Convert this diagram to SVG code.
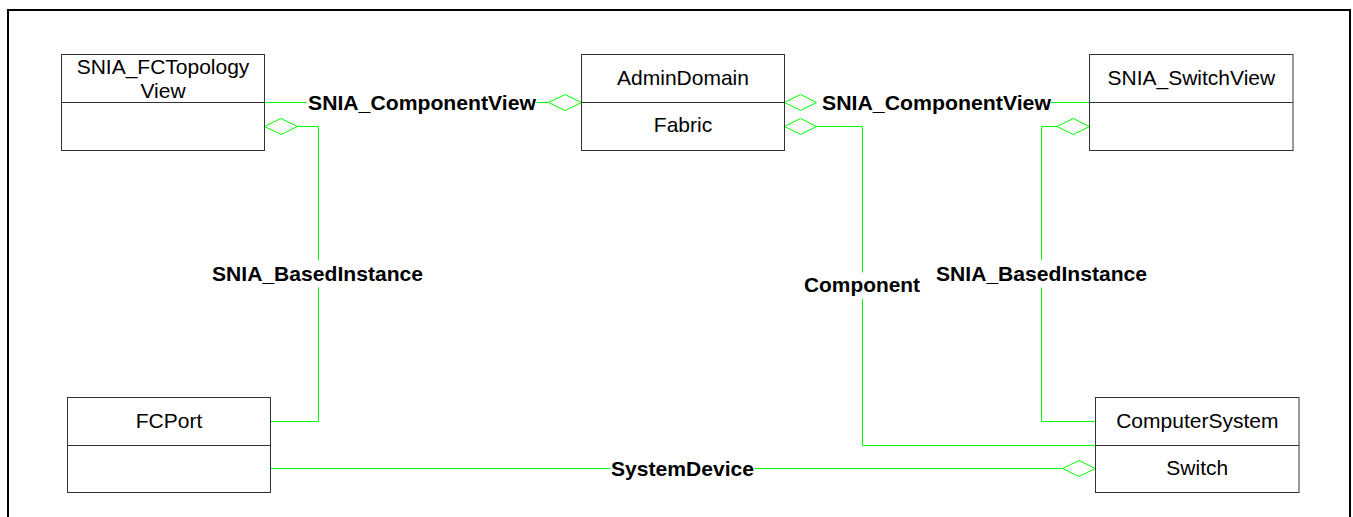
<svg xmlns="http://www.w3.org/2000/svg" width="1353" height="517" viewBox="0 0 1353 517">
<style>
.box{fill:#fff;stroke:#333;stroke-width:1}
.div{stroke:#333;stroke-width:1}
.t{font-family:"Liberation Sans",Arial,sans-serif;font-size:21px;fill:#000;text-anchor:middle}
.lbl{font-family:"Liberation Sans",Arial,sans-serif;font-size:21px;font-weight:bold;fill:#000}
.c{fill:none;stroke:#00ff00;stroke-width:1}
.dia{fill:#fff;stroke:#00ff00;stroke-width:1}
</style>
<rect x="8" y="10" width="1342" height="530" fill="#fff" stroke="#000" stroke-width="2"/>
<g id="connectors">
  <!-- SNIA_ComponentView left -->
  <path class="c" d="M264.5 102.5H306.5M536.5 102.5H548.5"/>
  <polygon class="dia" points="548.5,102.5 565,94.5 581.5,102.5 565,110.5"/>
  <text class="lbl" x="308" y="109.5" textLength="228" lengthAdjust="spacingAndGlyphs">SNIA_ComponentView</text>
  <!-- SNIA_ComponentView right -->
  <polygon class="dia" points="784.5,102.5 800.5,94.5 816.5,102.5 800.5,110.5"/>
  <path class="c" d="M1051 102.5H1089.5"/>
  <text class="lbl" x="822" y="109.5" textLength="229" lengthAdjust="spacingAndGlyphs">SNIA_ComponentView</text>
  <!-- SNIA_BasedInstance left -->
  <polygon class="dia" points="264.5,126.5 281,118.5 297.5,126.5 281,134.5"/>
  <path class="c" d="M297.5 126.5H318.5V260.5M318.5 287.5V421.5H270.5"/>
  <text class="lbl" x="212" y="280.5" textLength="211" lengthAdjust="spacingAndGlyphs">SNIA_BasedInstance</text>
  <!-- Component -->
  <polygon class="dia" points="784.5,126.5 800.5,118.5 816.5,126.5 800.5,134.5"/>
  <path class="c" d="M816.5 126.5H862.5V272.5M862.5 299V445.5H1095.5"/>
  <text class="lbl" x="804" y="291.5" textLength="116" lengthAdjust="spacingAndGlyphs">Component</text>
  <!-- SNIA_BasedInstance right -->
  <polygon class="dia" points="1057,126.5 1073.3,118.5 1089.5,126.5 1073.3,134.5"/>
  <path class="c" d="M1057 126.5H1041.5V260M1041.5 287.5V421.5H1095.5"/>
  <text class="lbl" x="936" y="280.5" textLength="211" lengthAdjust="spacingAndGlyphs">SNIA_BasedInstance</text>
  <!-- SystemDevice -->
  <path class="c" d="M270.5 468.5H610.5M754.5 468.5H1062.5"/>
  <polygon class="dia" points="1062.5,468.5 1079,460.5 1095.5,468.5 1079,476.5"/>
  <text class="lbl" x="611" y="475.5" textLength="143" lengthAdjust="spacingAndGlyphs">SystemDevice</text>
</g>
<g id="node-fctopologyview">
  <rect class="box" x="61.5" y="54.5" width="203" height="96"/>
  <line class="div" x1="61.5" y1="102.5" x2="264.5" y2="102.5"/>
  <text class="t" x="163" y="73.5">SNIA_FCTopology</text>
  <text class="t" x="163" y="97.5">View</text>
</g>
<g id="node-admindomain">
  <rect class="box" x="581.5" y="54.5" width="203" height="96"/>
  <line class="div" x1="581.5" y1="102.5" x2="784.5" y2="102.5"/>
  <text class="t" x="683" y="85">AdminDomain</text>
  <text class="t" x="683" y="132">Fabric</text>
</g>
<g id="node-switchview">
  <rect class="box" x="1089.5" y="54.5" width="203.5" height="96"/>
  <line class="div" x1="1089.5" y1="102.5" x2="1293" y2="102.5"/>
  <text class="t" x="1191.3" y="85">SNIA_SwitchView</text>
</g>
<g id="node-fcport">
  <rect class="box" x="67.5" y="397.5" width="203" height="95"/>
  <line class="div" x1="67.5" y1="445.5" x2="270.5" y2="445.5"/>
  <text class="t" x="169" y="427.5">FCPort</text>
</g>
<g id="node-computersystem">
  <rect class="box" x="1095.5" y="397.5" width="203.5" height="95"/>
  <line class="div" x1="1095.5" y1="445.5" x2="1299" y2="445.5"/>
  <text class="t" x="1197.3" y="427.5">ComputerSystem</text>
  <text class="t" x="1197.3" y="475">Switch</text>
</g>
</svg>
